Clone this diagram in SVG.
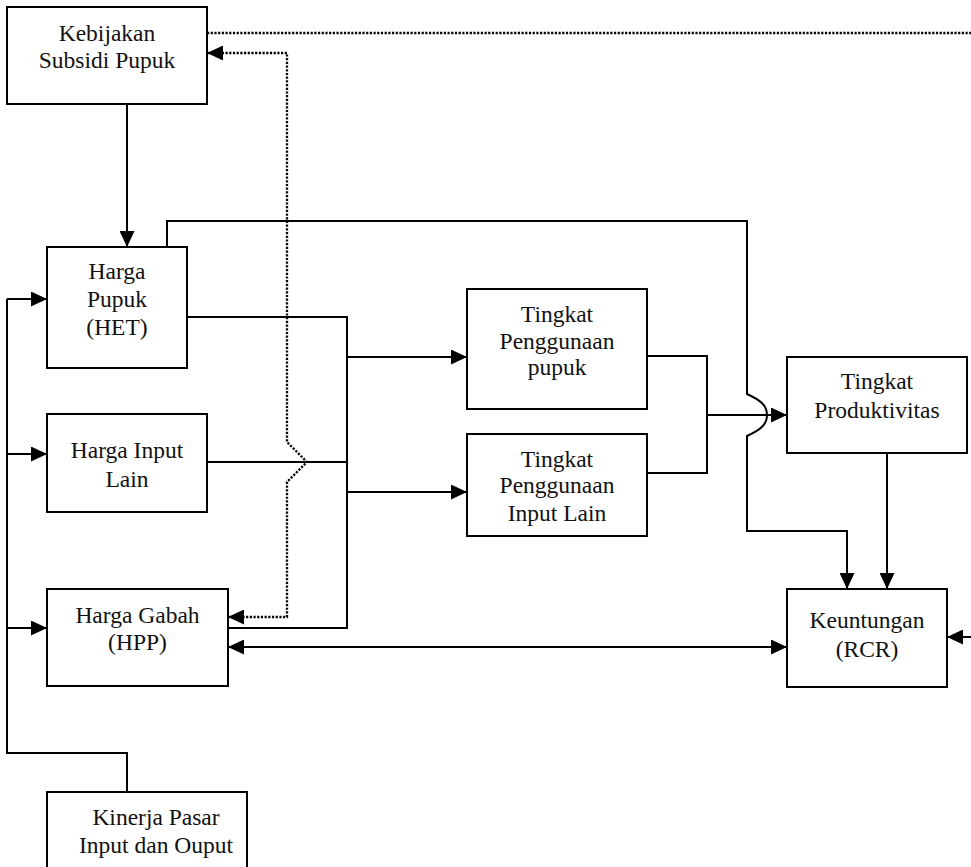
<svg xmlns="http://www.w3.org/2000/svg" width="971" height="867" viewBox="0 0 971 867">
<style>
.box{fill:#fff;stroke:#000;stroke-width:2}
.t{font-family:"Liberation Serif","Times New Roman",serif;font-size:23.5px;fill:#111;text-anchor:middle}
.c{fill:none;stroke:#000;stroke-width:2}
.d{fill:none;stroke:#000;stroke-width:2.3;stroke-dasharray:2.2 1.5}
</style>
<defs>
<marker id="ah" markerUnits="userSpaceOnUse" markerWidth="16" markerHeight="15" refX="16" refY="7.5" orient="auto-start-reverse">
<path d="M0,0 L16,7.5 L0,15 z" fill="#000"/>
</marker>
</defs>
<rect width="971" height="867" fill="#fff"/>
<g id="connectors">
<path class="c" d="M127,104 V247" marker-end="url(#ah)"/>
<path class="c" d="M167,247 V221 H747 V394 C760,400 767,405 767,415 C767,425 760,430 747,436 V531 H847 V589" marker-end="url(#ah)"/>
<path class="c" d="M187,317 H347 V628 H228"/>
<path class="c" d="M207,462 H347"/>
<path class="c" d="M347,357 H467" marker-end="url(#ah)"/>
<path class="c" d="M347,492 H467" marker-end="url(#ah)"/>
<path class="c" d="M647,356 H707 V473 H647"/>
<path class="c" d="M707,415 H787" marker-end="url(#ah)"/>
<path class="c" d="M887,453 V589" marker-end="url(#ah)"/>
<path class="c" d="M228,647 H787" marker-start="url(#ah)" marker-end="url(#ah)"/>
<path class="c" d="M971,637 H947" marker-end="url(#ah)"/>
<path class="c" d="M127,792 V753 H7 V299"/>
<path class="c" d="M7,299 H47" marker-end="url(#ah)"/>
<path class="c" d="M7,454 H47" marker-end="url(#ah)"/>
<path class="c" d="M7,628 H47" marker-end="url(#ah)"/>
<path class="d" d="M207,33 H971"/>
<path class="d" d="M207,53 H287 V442 L307,462 L287,482 V617 H228" marker-start="url(#ah)" marker-end="url(#ah)"/>
</g>
<g id="kebijakan">
<rect class="box" x="7" y="7" width="200" height="97"/>
<text class="t" font-family="Liberation Serif, serif" x="107" y="41">Kebijakan</text>
<text class="t" font-family="Liberation Serif, serif" x="107" y="68">Subsidi Pupuk</text>
</g>
<g id="harga-pupuk">
<rect class="box" x="47" y="247" width="140" height="121"/>
<text class="t" font-family="Liberation Serif, serif" x="117" y="279">Harga</text>
<text class="t" font-family="Liberation Serif, serif" x="117" y="307">Pupuk</text>
<text class="t" font-family="Liberation Serif, serif" x="117" y="335">(HET)</text>
</g>
<g id="harga-input-lain">
<rect class="box" x="47" y="414" width="160" height="98"/>
<text class="t" font-family="Liberation Serif, serif" x="127" y="458">Harga Input</text>
<text class="t" font-family="Liberation Serif, serif" x="127" y="487">Lain</text>
</g>
<g id="harga-gabah">
<rect class="box" x="47" y="589" width="181" height="97"/>
<text class="t" font-family="Liberation Serif, serif" x="137.5" y="623">Harga Gabah</text>
<text class="t" font-family="Liberation Serif, serif" x="137.5" y="650">(HPP)</text>
</g>
<g id="kinerja-pasar">
<rect class="box" x="47" y="792" width="200" height="90"/>
<text class="t" font-family="Liberation Serif, serif" x="156" y="825">Kinerja Pasar</text>
<text class="t" font-family="Liberation Serif, serif" x="156" y="853">Input dan Ouput</text>
</g>
<g id="tingkat-penggunaan-pupuk">
<rect class="box" x="467" y="289" width="180" height="120"/>
<text class="t" font-family="Liberation Serif, serif" x="557" y="322">Tingkat</text>
<text class="t" font-family="Liberation Serif, serif" x="557" y="349">Penggunaan</text>
<text class="t" font-family="Liberation Serif, serif" x="557" y="375">pupuk</text>
</g>
<g id="tingkat-penggunaan-input-lain">
<rect class="box" x="467" y="434" width="180" height="102"/>
<text class="t" font-family="Liberation Serif, serif" x="557" y="467">Tingkat</text>
<text class="t" font-family="Liberation Serif, serif" x="557" y="493">Penggunaan</text>
<text class="t" font-family="Liberation Serif, serif" x="557" y="521">Input Lain</text>
</g>
<g id="tingkat-produktivitas">
<rect class="box" x="787" y="357" width="180" height="96"/>
<text class="t" font-family="Liberation Serif, serif" x="877" y="389">Tingkat</text>
<text class="t" font-family="Liberation Serif, serif" x="877" y="418">Produktivitas</text>
</g>
<g id="keuntungan">
<rect class="box" x="787" y="589" width="160" height="98"/>
<text class="t" font-family="Liberation Serif, serif" x="867" y="628">Keuntungan</text>
<text class="t" font-family="Liberation Serif, serif" x="867" y="657">(RCR)</text>
</g>
</svg>
